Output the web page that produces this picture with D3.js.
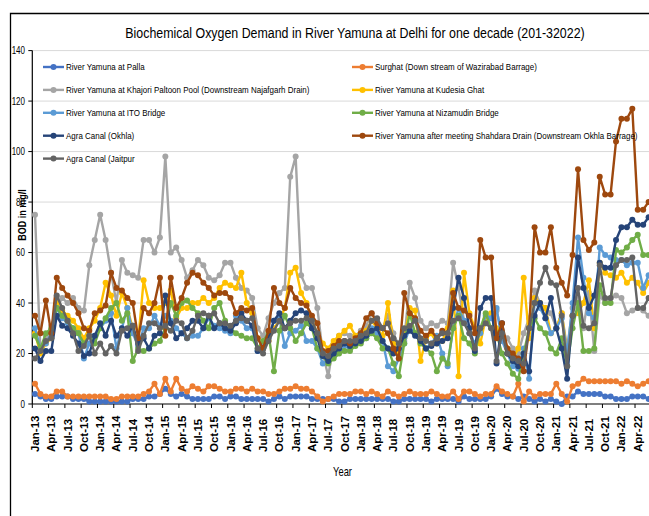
<!DOCTYPE html>
<html>
<head>
<meta charset="utf-8">
<script src="https://cdn.jsdelivr.net/npm/d3@7"></script>
<style>
  body { margin: 0; background: #fff; }
  svg { display: block; }
  text { font-family: "Liberation Sans Narrow", "Liberation Sans", Arial, sans-serif; fill: #000; }
</style>
</head>
<body>
<script>
// series names, in legend order
const seriesNames = [
  "River Yamuna at Palla",
  "Surghat (Down stream of Wazirabad Barrage)",
  "River Yamuna at Khajori Paltoon Pool (Downstream Najafgarh Drain)",
  "River Yamuna at Kudesia Ghat",
  "River Yamuna at ITO Bridge",
  "River Yamuna at Nizamudin Bridge",
  "Agra Canal (Okhla)",
  "River Yamuna after meeting Shahdara Drain (Downstream Okhla Barrage)",
  "Agra Canal (Jaitpur"
]

// monthly BOD (mg/l), Jan-13 .. Jun-22
const palla = [
  4,3,2,2,3,3,3,2,2,2,1,1,
  1,1,1,1,1,1,2,2,2,3,3,4,
  6,4,3,4,3,2,2,2,2,3,3,2,
  3,3,2,2,2,2,2,1,2,3,2,3,
  3,3,3,2,2,2,2,2,1,1,2,2,
  2,2,2,2,2,2,1,1,2,2,2,2,
  2,1,2,2,2,2,1,3,2,2,2,2,
  3,6,4,3,3,2,3,2,1,2,1,2,
  1,0,3,3,5,4,4,4,4,3,3,2,
  2,2,3,3,3,2
]
const surghat = [
  8,4,3,3,5,5,3,3,3,3,3,3,
  3,3,2,2,3,3,3,3,4,5,8,4,
  10,5,10,6,5,7,6,5,7,7,6,5,
  5,6,6,5,6,5,5,4,4,5,6,6,
  7,6,6,5,3,1,2,3,4,4,4,5,
  5,4,5,4,3,5,4,3,4,5,4,4,
  4,5,4,3,3,5,2,5,5,4,3,4,
  4,7,5,4,3,8,1,5,3,4,4,4,
  8,4,1,7,8,10,9,9,9,9,9,9,
  8,9,8,7,8,9
]
const khajori = [
  75,21,27,31,38,42,40,42,38,37,55,65,
  75,65,52,40,57,52,51,50,65,65,60,66,
  98,60,62,57,50,53,57,55,50,49,51,56,
  56,50,46,45,42,30,27,34,40,44,46,90,
  98,51,46,46,38,20,11,24,27,28,27,27,
  29,31,36,33,30,35,28,23,25,48,42,33,
  30,32,31,33,32,56,46,33,30,23,30,32,
  34,37,28,26,22,20,28,34,45,40,38,36,
  30,36,22,38,42,30,44,21,43,40,42,43,
  42,36,37,38,37,35
]
const kudesia = [
  28,20,24,26,40,37,35,33,30,26,30,33,
  38,48,43,35,44,38,30,25,49,40,38,38,
  40,45,34,38,38,40,40,42,40,42,46,48,
  47,46,52,40,36,26,23,25,30,33,38,52,
  54,44,40,33,28,24,22,25,27,29,31,27,
  28,29,33,30,27,40,24,20,26,38,37,17,
  26,28,24,25,30,45,11,52,36,30,24,34,
  36,30,28,22,18,22,50,26,42,40,38,28,
  30,36,20,35,36,40,49,30,56,52,51,50,
  52,48,50,48,44,48
]
const ito = [
  30,22,24,28,38,34,32,30,28,18,24,27,
  30,33,36,22,30,38,28,23,30,30,35,31,
  35,33,30,28,26,27,27,30,34,31,30,29,
  28,35,33,30,30,21,23,27,33,34,23,28,
  29,31,25,25,22,16,17,19,21,23,22,24,
  25,26,30,28,25,15,13,18,24,30,28,25,
  22,24,27,20,15,30,38,33,28,24,28,35,
  34,38,25,20,15,14,22,10,40,38,34,28,
  30,34,20,40,66,50,36,34,62,59,58,57,
  57,55,56,56,46,51
]
const nizamudin = [
  27,22,28,30,38,35,33,30,28,24,27,24,
  30,34,38,40,33,36,17,22,21,22,24,25,
  30,40,35,40,41,38,36,33,30,38,40,33,
  30,28,27,26,26,22,25,28,13,29,35,30,
  25,28,32,30,22,19,16,18,20,21,21,23,
  24,26,28,26,22,22,16,11,24,36,28,24,
  22,20,13,18,16,30,35,26,24,20,30,36,
  30,28,20,16,12,10,20,30,34,30,28,22,
  20,26,15,30,40,21,21,22,47,40,40,61,
  60,62,65,67,59,59
]
const agraOkhla = [
  22,17,21,21,35,31,30,27,24,19,20,27,
  32,27,33,27,30,27,31,24,26,22,27,28,
  43,32,26,28,30,33,33,30,35,30,32,30,
  29,32,36,33,31,21,22,26,33,36,30,33,
  36,37,36,30,26,19,17,20,22,24,23,24,
  25,27,29,30,25,22,20,22,27,29,27,25,
  22,23,24,25,26,38,50,42,30,21,38,42,
  42,16,32,20,17,15,20,13,35,40,34,42,
  30,22,10,35,58,46,38,43,56,54,54,65,
  70,70,73,71,71,74
]
const shahdara = [
  35,28,41,28,50,46,43,40,36,30,29,36,
  37,39,52,46,45,42,40,26,38,36,40,50,
  27,50,38,42,48,52,51,48,46,43,44,44,
  42,36,38,37,38,26,22,29,46,40,38,46,
  42,40,39,35,32,21,21,23,25,25,24,26,
  28,34,36,32,30,28,22,18,44,36,34,29,
  27,29,26,29,28,44,38,37,35,28,65,58,
  58,26,32,22,20,18,13,30,70,60,60,70,
  54,48,43,59,93,65,61,64,90,83,83,104,
  113,113,117,77,77,80
]
const jaitpur = [
  18,21,25,26,43,38,33,28,21,23,27,20,
  24,20,23,20,29,30,31,21,27,32,32,30,
  31,29,33,32,26,29,35,36,35,36,32,32,
  31,33,34,33,34,22,20,25,29,33,30,32,
  33,33,34,33,28,20,19,22,23,25,25,25,
  27,28,33,34,30,32,26,24,30,31,33,26,
  25,24,26,28,28,33,34,32,28,22,30,32,
  30,17,28,20,18,17,16,30,40,48,54,48,
  47,35,15,35,46,31,30,32,55,42,42,55,
  57,57,58,38,38,42
]

const yTicks = [0, 20, 40, 60, 80, 100, 120, 140]

const seriesData = [palla, surghat, khajori, kudesia, ito, nizamudin, agraOkhla, shahdara, jaitpur]
const colors = ["#4472C4", "#ED7D31", "#A5A5A5", "#FFC000", "#5B9BD5", "#70AD47", "#264478", "#9E480E", "#636363"]

const w = 649
const h = 516

// months as categories
const months = d3.timeMonth.range(new Date(2013, 0, 1), new Date(2022, 6, 1))
const cats = months.map(d3.timeFormat("%b-%y"))

const left = 32.3, step = 5.43
const x = d3.scaleBand()
  .domain(cats)
  .range([left, left + cats.length * step])
const cx = c => x(c) + x.bandwidth() / 2

const y = d3.scaleLinear()
  .domain([0, 140])
  .range([404, 50.6])

// no narrow font installed: squeeze text horizontally with a transform
const narrow = (tx, ty, k) => `translate(${tx},${ty}) scale(${k},1)`

const svg = d3.select("body")
  .append("svg")
  .attr("width", w)
  .attr("height", h)

// chart frame (only left and top edges are in view)
svg.append("path")
  .attr("d", `M10.5,${h} V13.5 H${w}`)
  .attr("fill", "none")
  .attr("stroke", "#000")
  .attr("stroke-width", 1.3)

// title
svg.append("text")
  .attr("transform", narrow(355, 38, 0.8))
  .attr("text-anchor", "middle")
  .attr("font-size", "15.5px")
  .text("Biochemical Oxygen Demand in River Yamuna at Delhi for one decade (201-32022)")

// gridlines
svg.selectAll("line.grid")
  .data(yTicks.filter(d => d > 0))
  .enter()
  .append("line")
  .attr("class", "grid")
  .attr("x1", left).attr("x2", w)
  .attr("y1", d => y(d)).attr("y2", d => y(d))
  .attr("stroke", "#d9d9d9")
  .attr("stroke-width", 1)

// y tick labels
svg.selectAll("text.ytick")
  .data(yTicks)
  .enter()
  .append("text")
  .attr("class", "ytick")
  .attr("transform", d => narrow(25, y(d), 0.8))
  .attr("dy", "0.35em")
  .attr("text-anchor", "end")
  .attr("font-size", "10px")
  .text(d => d)

// y axis title (sits under the lines)
svg.append("text")
  .attr("transform", "translate(22,215) rotate(-90) scale(0.82,1)")
  .attr("text-anchor", "middle")
  .attr("dy", "0.35em")
  .attr("font-size", "11px")
  .attr("font-weight", "bold")
  .text("BOD in mg/l")

// axes lines
svg.append("line")
  .attr("x1", left).attr("x2", left)
  .attr("y1", y(140)).attr("y2", y(0))
  .attr("stroke", "#000").attr("stroke-width", 1.2)
svg.append("line")
  .attr("x1", left).attr("x2", w)
  .attr("y1", y(0)).attr("y2", y(0))
  .attr("stroke", "#000").attr("stroke-width", 1.2)

// y ticks
svg.selectAll("line.yt")
  .data(yTicks)
  .enter()
  .append("line")
  .attr("class", "yt")
  .attr("x1", left - 4).attr("x2", left)
  .attr("y1", d => y(d)).attr("y2", d => y(d))
  .attr("stroke", "#000")

// x tick marks at category boundaries, every 3 months
const tickCats = cats.filter((d, i) => i % 3 === 0)
svg.selectAll("line.xt")
  .data(tickCats)
  .enter()
  .append("line")
  .attr("class", "xt")
  .attr("x1", d => x(d)).attr("x2", d => x(d))
  .attr("y1", y(0)).attr("y2", y(0) + 4)
  .attr("stroke", "#000")

// x tick labels, rotated
svg.selectAll("text.xtick")
  .data(tickCats)
  .enter()
  .append("text")
  .attr("class", "xtick")
  .attr("transform", d => `translate(${cx(d)},452) rotate(-90)`)
  .attr("dy", "0.35em")
  .attr("text-anchor", "start")
  .attr("font-size", "11.5px")
  .attr("font-weight", "bold")
  .style("font-family", "'Liberation Sans', Arial, sans-serif")
  .text(d => d)

svg.append("text")
  .attr("transform", narrow(342.5, 476, 0.78))
  .attr("text-anchor", "middle")
  .attr("font-size", "12px")
  .text("Year")

// series
const line = d3.line()
  .x((d, i) => cx(cats[i]))
  .y(d => y(d))

const series = svg.selectAll("g.series")
  .data(seriesData)
  .enter()
  .append("g")
  .attr("class", "series")

series.append("path")
  .attr("d", d => line(d))
  .attr("fill", "none")
  .attr("stroke", (d, i) => colors[i])
  .attr("stroke-width", 2.4)
  .attr("stroke-linejoin", "round")

series.each(function(vals, k) {
  d3.select(this).selectAll("circle")
    .data(vals)
    .enter()
    .append("circle")
    .attr("cx", (d, i) => cx(cats[i]))
    .attr("cy", d => y(d))
    .attr("r", 3)
    .attr("fill", colors[k])
})

// legend, two columns
const legend = svg.selectAll("g.legend")
  .data(seriesNames)
  .enter()
  .append("g")
  .attr("class", "legend")
  .attr("transform", (d, i) => `translate(${i % 2 === 0 ? 43 : 352},${67 + Math.floor(i / 2) * 22.9})`)

legend.append("line")
  .attr("x1", 0).attr("x2", 21)
  .attr("stroke", (d, i) => colors[i])
  .attr("stroke-width", 2.4)
legend.append("circle")
  .attr("cx", 10.5)
  .attr("r", 3)
  .attr("fill", (d, i) => colors[i])
legend.append("text")
  .attr("transform", narrow(23, 0, 0.84))
  .attr("dy", "0.35em")
  .attr("font-size", "9.5px")
  .text(d => d)
</script>
</body>
</html>
